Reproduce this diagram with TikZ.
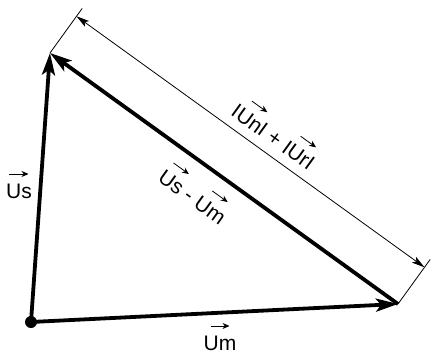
\documentclass[tikz,border=0pt]{standalone}
\usepackage{fontspec}
\setmainfont{Liberation Sans}
\usetikzlibrary{arrows.meta,calc}
\newcommand{\vt}[1]{\begin{tabular}[b]{@{}c@{}}\tikz\draw[line width=0.8pt,-{Stealth[length=7pt,width=6pt]}] (0pt,0pt)--(19pt,0pt);\\[-3pt]#1\end{tabular}}

\begin{document}
\begin{tikzpicture}[x=1pt,y=-1pt,font=\fontsize{21}{24}\selectfont,
  vec/.style={line width=3.8pt,-{Stealth[length=22pt,width=13pt,inset=5pt]}},
  dim/.style={line width=0.8pt,{Stealth[length=13pt,width=7pt,inset=3pt]}-{Stealth[length=13pt,width=7pt,inset=3pt]}},
  ext/.style={line width=0.8pt}]
\useasboundingbox (0,0) rectangle (431,353);
\coordinate (O) at (31,322);
\coordinate (S) at (50,53);
\coordinate (M) at (398,304);
\coordinate (D1) at ($(S)+(26.5,-36.7)$);
\coordinate (D2) at ($(M)+(26.5,-36.7)$);
\coordinate (E1) at ($(S)+(32.2,-44.6)$);
\coordinate (E2) at ($(M)+(32.2,-44.6)$);
% vectors
\draw [vec] (O)--(S);
\draw [vec] (O)--(M);
\draw [vec] (M)--(S);
\fill (O) circle (6pt);
% dimension
\draw [ext] (S)--(E1);
\draw [ext] (M)--(E2);
\draw [dim] (D1)--(D2);
% labels
\node (us) [anchor=base] at (19,198) {\vt{Us}};
\node (um) [anchor=base] at (220,350) {\vt{Um}};
\node (diff) [anchor=base,rotate=-35.8] at (188,203) {\vt{Us} - \vt{Um}};
\node (sum) [anchor=base,rotate=-35.8] at (269,143) {I\vt{Un}I + I\vt{Ur}I};
\end{tikzpicture}
\end{document}
